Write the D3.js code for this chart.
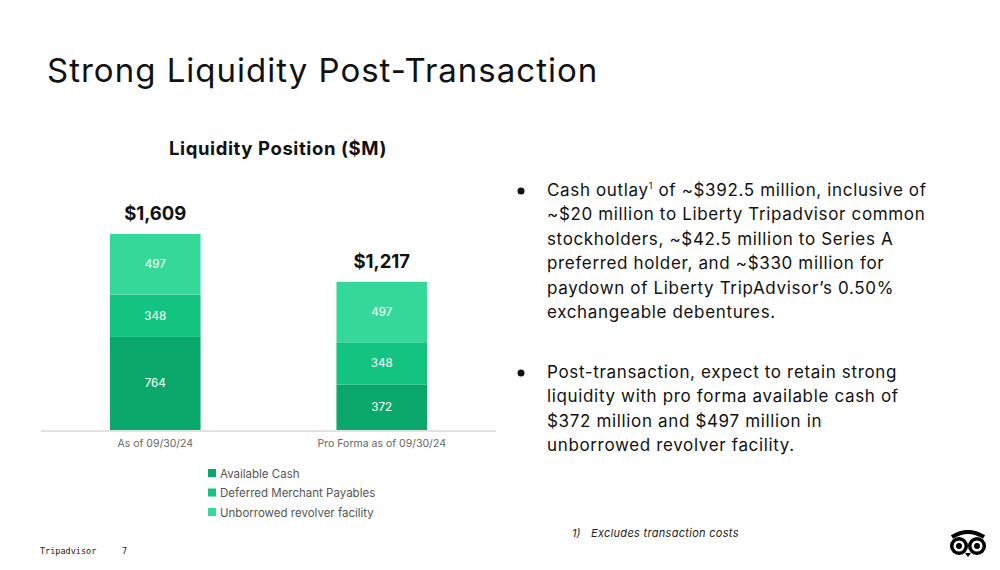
<!DOCTYPE html>
<html>
<head>
<meta charset="utf-8">
<script src="https://cdn.jsdelivr.net/npm/d3@7"></script>
<style>
  body { margin: 0; background: #fff; }
  svg { display: block; font-family: "Inter", "Noto Sans", sans-serif; }
</style>
</head>
<body>
<div id="chart"></div>
<script>
// Data
const categories = ["As of 09/30/24", "Pro Forma as of 09/30/24"];
const seriesNames = ["Available Cash", "Deferred Merchant Payables", "Unborrowed revolver facility"];
const availableCash = [764, 372];
const deferredPayables = [348, 348];
const revolver = [497, 497];
const totalLabels = ["$1,609", "$1,217"];

const colors = ["#0aa86a", "#12c480", "#34d99a"];

const width = 1000, height = 570;

const svg = d3.select("#chart")
  .append("svg")
    .attr("width", width)
    .attr("height", height)
    .attr("viewBox", [0, 0, width, height]);

/* Title */
svg.append("text")
  .attr("x", 47).attr("y", 82)
  .attr("font-size", 33)
  .attr("font-weight", 400)
  .attr("letter-spacing", 1)
  .attr("fill", "#111")
  .text("Strong Liquidity Post-Transaction");

svg.append("text")
  .attr("x", 278).attr("y", 155)
  .attr("text-anchor", "middle")
  .attr("font-size", 18.5)
  .attr("font-weight", 700)
  .attr("letter-spacing", 0.6)
  .attr("fill", "#111")
  .text("Liquidity Position ($M)");

/* Stack the three series */
const rows = categories.map((c, i) => ({
  category: c,
  [seriesNames[0]]: availableCash[i],
  [seriesNames[1]]: deferredPayables[i],
  [seriesNames[2]]: revolver[i]
}));
const stacked = d3.stack().keys(seriesNames)(rows);

const xScale = d3.scaleBand()
  .domain(categories)
  .range([42, 495])
  .paddingInner(0.6)
  .paddingOuter(0.3);

const yScale = d3.scaleLinear()
  .domain([0, 1609])
  .range([430, 234]);

const color = d3.scaleOrdinal().domain(seriesNames).range(colors);

const layers = svg.append("g")
  .selectAll("g")
  .data(stacked)
  .join("g")
    .attr("fill", d => color(d.key));

layers.selectAll("rect")
  .data(d => d)
  .join("rect")
    .attr("x", d => xScale(d.data.category))
    .attr("y", d => yScale(d[1]))
    .attr("width", xScale.bandwidth())
    .attr("height", d => yScale(d[0]) - yScale(d[1]));

layers.selectAll("text")
  .data(d => d)
  .join("text")
    .attr("x", d => xScale(d.data.category) + xScale.bandwidth() / 2)
    .attr("y", d => (yScale(d[0]) + yScale(d[1])) / 2 + 4)
    .attr("text-anchor", "middle")
    .attr("font-size", 11.5)
    .attr("font-weight", 500)
    .attr("fill", "#e6f8ef")
    .text(d => d[1] - d[0]);

/* Totals above bars */
svg.append("g")
  .selectAll("text")
  .data(rows)
  .join("text")
    .attr("x", d => xScale(d.category) + xScale.bandwidth() / 2)
    .attr("y", (d, i) => yScale(availableCash[i] + deferredPayables[i] + revolver[i]) - 14)
    .attr("text-anchor", "middle")
    .attr("font-size", 18.5)
    .attr("font-weight", 700)
    .attr("fill", "#111")
    .text((d, i) => totalLabels[i]);

/* x axis */
const xAxis = d3.axisBottom(xScale).tickSize(0).tickPadding(10);
const xGroup = svg.append("g")
  .attr("transform", `translate(0, ${yScale(0)})`)
  .call(xAxis);
xGroup.select(".domain").remove();
xGroup.append("line")
  .attr("x1", 41).attr("x2", 496)
  .attr("y1", 1).attr("y2", 1)
  .attr("stroke", "#e2e2e2")
  .attr("stroke-width", 2);
xGroup.selectAll("text")
  .attr("font-size", 10.5)
  .attr("fill", "#666")
  .attr("font-family", "Inter, sans-serif");

/* Legend */
const legend = svg.append("g")
  .selectAll("g")
  .data(seriesNames)
  .join("g")
    .attr("transform", (d, i) => `translate(208, ${469 + i * 19.5})`);
legend.append("rect")
  .attr("width", 8).attr("height", 8)
  .attr("fill", d => color(d));
legend.append("text")
  .attr("x", 12).attr("y", 8.5)
  .attr("font-size", 11.5)
  .attr("fill", "#555")
  .text(d => d);

/* Bullet text */
const bullet1 = [
  "Cash outlay|1| of ~$392.5 million, inclusive of",
  "~$20 million to Liberty Tripadvisor common",
  "stockholders, ~$42.5 million to Series A",
  "preferred holder, and ~$330 million for",
  "paydown of Liberty TripAdvisor\u2019s 0.50%",
  "exchangeable debentures."
];
const bullet2 = [
  "Post-transaction, expect to retain strong",
  "liquidity with pro forma available cash of",
  "$372 million and $497 million in",
  "unborrowed revolver facility."
];

const drawBullet = (lines, y0) => {
  svg.append("circle")
    .attr("cx", 521).attr("cy", y0 - 5)
    .attr("r", 3.5)
    .attr("fill", "#111");
  lines.forEach((line, i) => {
    const t = svg.append("text")
      .attr("x", 547).attr("y", y0 + i * 24.4)
      .attr("font-size", 17)
      .attr("letter-spacing", 0.65)
      .attr("fill", "#111");
    const parts = line.split("|");
    parts.forEach((p, j) => {
      if (j === 1) {
        t.append("tspan").attr("font-size", 9).attr("dy", -7).text(p);
      } else if (j === 2) {
        t.append("tspan").attr("dy", 7).text(p);
      } else {
        t.append("tspan").text(p);
      }
    });
  });
};
drawBullet(bullet1, 196);
drawBullet(bullet2, 378);

/* Footnote */
svg.append("text")
  .attr("x", 572).attr("y", 537)
  .attr("font-size", 11)
  .attr("font-style", "italic")
  .attr("fill", "#222")
  .text("1)");
svg.append("text")
  .attr("x", 591).attr("y", 537)
  .attr("font-size", 11)
  .attr("font-style", "italic")
  .attr("letter-spacing", 0.3)
  .attr("fill", "#222")
  .text("Excludes transaction costs");

/* Footer */
svg.append("text")
  .attr("x", 40).attr("y", 554)
  .attr("font-size", 8.5)
  .attr("font-family", "DejaVu Sans Mono, monospace")
  .attr("fill", "#222")
  .text("Tripadvisor");
svg.append("text")
  .attr("x", 122).attr("y", 554)
  .attr("font-size", 8.5)
  .attr("font-family", "DejaVu Sans Mono, monospace")
  .attr("fill", "#222")
  .text("7");

/* Owl logo */
const owl = svg.append("g").attr("transform", "translate(968, 545)");
owl.append("path")
  .attr("d", "M-16,-8 Q0,-18 16,-8")
  .attr("fill", "none")
  .attr("stroke", "#000")
  .attr("stroke-width", 4);
[-9, 9].forEach(cx => {
  owl.append("circle").attr("cx", cx).attr("cy", 1).attr("r", 9).attr("fill", "#000");
  owl.append("circle").attr("cx", cx).attr("cy", 1).attr("r", 5.5).attr("fill", "#fff");
  owl.append("circle").attr("cx", cx).attr("cy", 1).attr("r", 3).attr("fill", "#000");
});
owl.append("path").attr("d", "M-3,8 L0,12 L3,8 Z").attr("fill", "#000");
</script>
</body>
</html>
